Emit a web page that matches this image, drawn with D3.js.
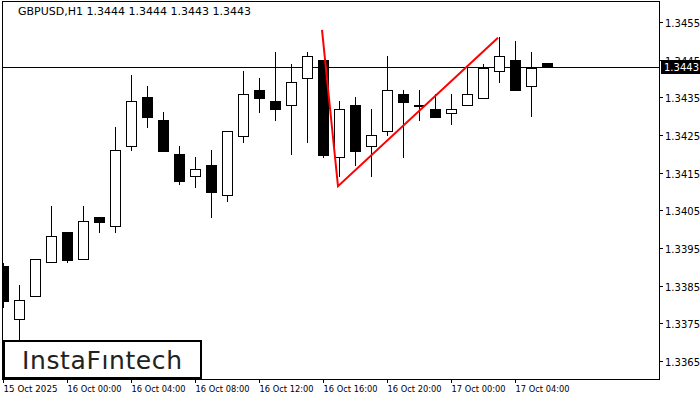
<!DOCTYPE html>
<html>
<head>
<meta charset="utf-8">
<script src="https://d3js.org/d3.v7.min.js"></script>
<style>
  body { margin: 0; background: #fff; }
  text { font-family: Tahoma, "DejaVu Sans", sans-serif; }
</style>
</head>
<body>
<svg width="700" height="400"></svg>
<script>
// 15 Oct 20:00 .. 17 Oct 06:00, hourly
var open  = [1.33902,1.33762,1.33823,1.33913,1.33992,1.33921,1.34032,1.34008,1.34221,1.34351,1.3429,1.342,1.34141,1.3417,1.34091,1.34247,1.3437,1.3434,1.3433,1.34401,1.34449,1.34192,1.3433,1.34221,1.34261,1.34359,1.3433,1.34319,1.34308,1.3433,1.34348,1.3442,1.34449,1.3438,1.3444];
var high  = [1.3391,1.33852,1.33921,1.34062,1.33992,1.34062,1.34032,1.34271,1.34409,1.3438,1.34311,1.34221,1.34192,1.3421,1.34261,1.3442,1.34401,1.3447,1.34439,1.3447,1.34449,1.3434,1.34351,1.34319,1.3446,1.3437,1.3437,1.34359,1.34359,1.3443,1.34439,1.3451,1.345,1.3447,1.3444];
var low   = [1.3379,1.33693,1.33823,1.33913,1.3391,1.33921,1.3399,1.3399,1.34208,1.34269,1.34208,1.34117,1.34109,1.3403,1.34072,1.34229,1.34308,1.34287,1.34197,1.34229,1.34189,1.34139,1.34168,1.34139,1.34247,1.34189,1.34287,1.34298,1.34277,1.3433,1.34348,1.34388,1.3437,1.34298,1.3443];
var close = [1.33809,1.33812,1.33921,1.33982,1.33918,1.34022,1.34019,1.3421,1.3434,1.34298,1.34208,1.34128,1.3416,1.34099,1.34261,1.34359,1.34348,1.34319,1.34391,1.3446,1.34197,1.34319,1.34208,1.3425,1.3437,1.34338,1.3433,1.34298,1.34319,1.34359,1.34428,1.3446,1.3437,1.34428,1.3443];
var xTickIdx = [0,4,8,12,16,20,24,28,32];
var xTickLabels = ["15 Oct 2025","16 Oct 00:00","16 Oct 04:00","16 Oct 08:00","16 Oct 12:00","16 Oct 16:00","16 Oct 20:00","17 Oct 00:00","17 Oct 04:00"];
var yTicks = [1.3365,1.3375,1.3385,1.3395,1.3405,1.3415,1.3425,1.3435,1.3445,1.3455];
var patternIdx = [20,21,31];
var patternPrice = [1.34529,1.34114,1.34508];
var lastPrice = 1.3443;

var L = 3, R = 659, T = 2, B = 379;
var svg = d3.select("svg");
var x = function (i) { return 3 + 16 * i; };
var y = d3.scaleLinear().domain([1.3365, 1.3455]).range([361, 22]);

svg.append("clipPath").attr("id", "clip")
  .append("rect").attr("x", L).attr("y", T).attr("width", R - L).attr("height", B - T);

var plot = svg.append("g").attr("clip-path", "url(#clip)");

// last price line
plot.append("line").attr("x1", L).attr("x2", R)
  .attr("y1", Math.round(y(lastPrice)) + 0.5).attr("y2", Math.round(y(lastPrice)) + 0.5)
  .attr("stroke", "#000");

var c = plot.selectAll("g.c").data(open).enter().append("g");
c.append("line")
  .attr("x1", function (d, i) { return x(i) + 0.5; }).attr("x2", function (d, i) { return x(i) + 0.5; })
  .attr("y1", function (d, i) { return Math.round(y(high[i])); })
  .attr("y2", function (d, i) { return Math.round(y(low[i])); })
  .attr("stroke", "#000");
c.append("rect")
  .attr("x", function (d, i) { return x(i) - 4.5; })
  .attr("width", 10)
  .attr("y", function (d, i) { return Math.round(y(Math.max(d, close[i]))) + 0.5; })
  .attr("height", function (d, i) { return Math.max(1, Math.round(y(Math.min(d, close[i])) - y(Math.max(d, close[i])))); })
  .attr("fill", function (d, i) { return close[i] < d || i == open.length - 1 ? "#000" : "#fff"; })
  .attr("stroke", "#000");

// pattern lines
plot.append("path")
  .attr("d", d3.line().x(function (d, i) { return x(patternIdx[i]) - 1; }).y(function (d) { return y(d); })(patternPrice))
  .attr("fill", "none").attr("stroke", "#f00").attr("stroke-width", 2);

// frame
svg.append("rect").attr("x", L - 0.5).attr("y", T - 0.5).attr("width", R - L + 1).attr("height", B - T + 1)
  .attr("fill", "none").attr("stroke", "#000");

// title
svg.append("text").attr("x", 18).attr("y", 15).attr("font-size", 11).text("GBPUSD,H1  1.3444 1.3444 1.3443 1.3443");

// y axis
yTicks.forEach(function (v) {
  var yy = Math.round(y(v)) + 0.5;
  svg.append("line").attr("x1", R).attr("x2", R + 4).attr("y1", yy).attr("y2", yy).attr("stroke", "#000");
  svg.append("text").attr("x", 665).attr("y", yy + 4).attr("font-size", 10).text(v.toFixed(4));
});
var ly = Math.round(y(lastPrice));
svg.append("rect").attr("x", 661).attr("y", ly - 7).attr("width", 39).attr("height", 14).attr("fill", "#000");
svg.append("text").attr("x", 664).attr("y", ly + 4).attr("font-size", 10).attr("fill", "#fff").text(lastPrice.toFixed(4));

// x axis
xTickIdx.forEach(function (idx, k) {
  var xx = x(idx) + 0.5;
  svg.append("line").attr("x1", xx).attr("x2", xx).attr("y1", B).attr("y2", B + 4).attr("stroke", "#000");
  svg.append("text").attr("x", xx).attr("y", 392).attr("font-size", 9)
    .attr("textLength", 54).attr("lengthAdjust", "spacingAndGlyphs").text(xTickLabels[k]);
});

// logo
svg.append("rect").attr("x", 4).attr("y", 341).attr("width", 197).attr("height", 37)
  .attr("fill", "#fff").attr("stroke", "#000").attr("stroke-width", 2);
svg.append("text").attr("x", 22).attr("y", 369).attr("font-size", 25)
  .attr("font-family", "Inter, 'Open Sans', sans-serif").attr("fill", "#222")
  .attr("textLength", 160).text("InstaF\u0131ntech");
</script>
</body>
</html>
